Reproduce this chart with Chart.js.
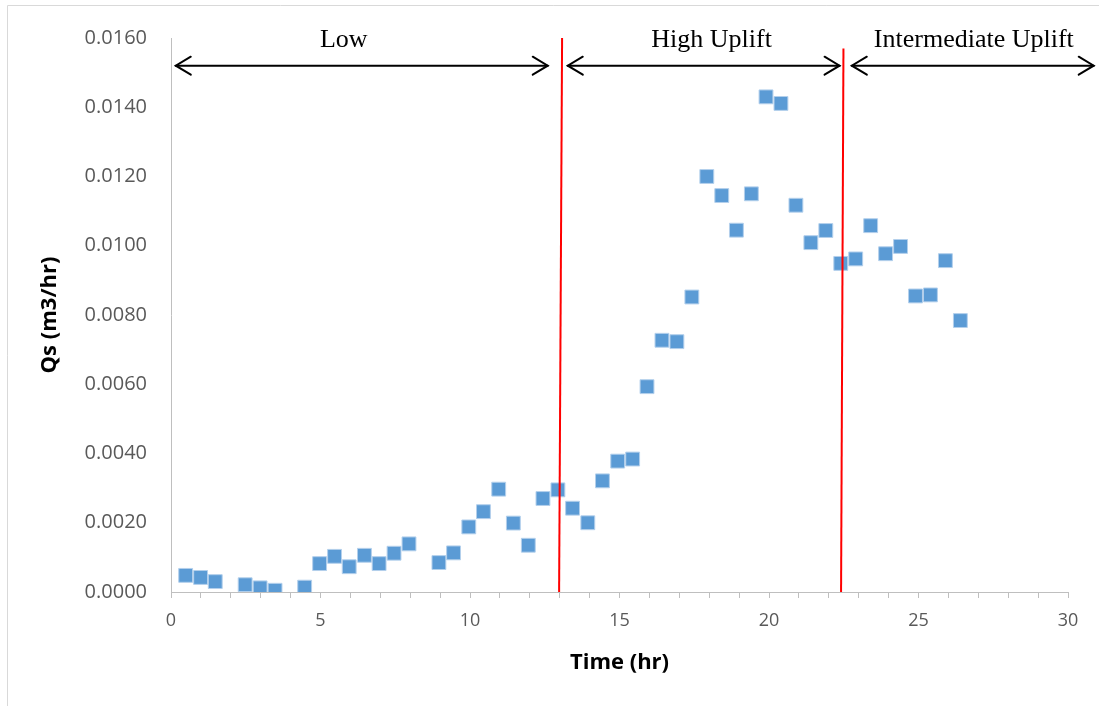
<!DOCTYPE html>
<html>
<head>
<meta charset="utf-8">
<script src="https://cdn.jsdelivr.net/npm/chart.js@4.4.1/dist/chart.umd.min.js"></script>
<style>
  html, body { margin: 0; padding: 0; background: #ffffff; }
  #wrap { width: 1099px; height: 706px; position: relative; }
</style>
</head>
<body>
<div id="wrap"><canvas id="c" width="1099" height="706"></canvas></div>
<script>
// ---- data ----
const timeHr = [0.49, 0.99, 1.48, 2.48, 2.98, 3.48, 4.47, 4.97, 5.47, 5.96,
  6.47, 6.96, 7.46, 7.96, 8.96, 9.45, 9.96, 10.45, 10.96, 11.45,
  11.95, 12.44, 12.94, 13.43, 13.94, 14.43, 14.94, 15.44, 15.92, 16.42,
  16.92, 17.42, 17.92, 18.42, 18.91, 19.41, 19.9, 20.4, 20.9, 21.4,
  21.9, 22.4, 22.9, 23.4, 23.9, 24.4, 24.9, 25.4, 25.9, 26.4];
const qs = [0.00048, 0.00042, 0.00030, 0.00021, 0.00012, 0.00005, 0.00014, 0.00082, 0.00103, 0.00073,
  0.00106, 0.00082, 0.00112, 0.00139, 0.00085, 0.00113, 0.00188, 0.00232, 0.00297, 0.00199,
  0.00135, 0.00270, 0.00295, 0.00242, 0.00200, 0.00321, 0.00378, 0.00384, 0.00593, 0.00727,
  0.00723, 0.00852, 0.01200, 0.01145, 0.01045, 0.01150, 0.01430, 0.01411, 0.01117, 0.01009,
  0.01044, 0.00949, 0.00962, 0.01058, 0.00977, 0.00998, 0.00855, 0.00858, 0.00957, 0.00784];

// phase boundary lines (top x, top y, bottom x, bottom y)
const boundary1X = [13.08, 12.98];
const boundary1Y = [0.0160, 0.0];
const boundary2X = [22.49, 22.41];
const boundary2Y = [0.0157, 0.0];

// phase annotations
const phaseLabels = ['Low', 'High Uplift', 'Intermediate Uplift'];
const phaseLabelX = [5.78, 18.08, 26.85];
const phaseLabelY = 0.01594;
const arrowStartX = [0.16, 13.27, 22.77];
const arrowEndX = [12.6, 22.36, 30.86];
const arrowY = 0.0152;

// axis settings
const xMin = 0, xMax = 30, xStep = 1, xLabelEvery = 5;
const yMin = 0, yMax = 0.016, yStep = 0.002;

const points = timeHr.map((t, i) => ({x: t, y: qs[i]}));
const line1 = boundary1X.map((x, i) => ({x: x, y: boundary1Y[i]}));
const line2 = boundary2X.map((x, i) => ({x: x, y: boundary2Y[i]}));

const annotationPlugin = {
  id: 'phaseAnnotations',
  afterDraw(chart) {
    const ctx = chart.ctx;
    const xs = chart.scales.x, ys = chart.scales.y;
    ctx.save();
    // outer frame
    ctx.strokeStyle = '#D9D9D9';
    ctx.lineWidth = 1;
    ctx.beginPath();
    ctx.moveTo(7.5, 706);
    ctx.lineTo(7.5, 5.5);
    ctx.lineTo(1099, 5.5);
    ctx.stroke();

    // arrows
    const ay = ys.getPixelForValue(arrowY);
    ctx.strokeStyle = '#000000';
    ctx.lineWidth = 2;
    ctx.lineCap = 'round';
    ctx.lineJoin = 'miter';
    for (let i = 0; i < arrowStartX.length; i++) {
      const x0 = xs.getPixelForValue(arrowStartX[i]);
      const x1 = xs.getPixelForValue(arrowEndX[i]);
      ctx.beginPath();
      ctx.moveTo(x0, ay); ctx.lineTo(x1, ay);
      ctx.stroke();
      ctx.beginPath();
      ctx.moveTo(x0 + 15, ay - 9); ctx.lineTo(x0, ay); ctx.lineTo(x0 + 15, ay + 9);
      ctx.stroke();
      ctx.beginPath();
      ctx.moveTo(x1 - 15, ay - 9); ctx.lineTo(x1, ay); ctx.lineTo(x1 - 15, ay + 9);
      ctx.stroke();
    }
    // labels
    ctx.fillStyle = '#000000';
    ctx.font = '26px "Liberation Serif", "Times New Roman", serif';
    ctx.textAlign = 'center';
    ctx.textBaseline = 'middle';
    const ly = ys.getPixelForValue(phaseLabelY);
    for (let i = 0; i < phaseLabels.length; i++) {
      ctx.fillText(phaseLabels[i], xs.getPixelForValue(phaseLabelX[i]), ly);
    }
    ctx.restore();
  }
};

new Chart(document.getElementById('c'), {
  type: 'scatter',
  data: {
    datasets: [
      { data: line1, showLine: true, borderColor: '#FF0000', borderWidth: 2, pointRadius: 0, fill: false },
      { data: line2, showLine: true, borderColor: '#FF0000', borderWidth: 2, pointRadius: 0, fill: false },
      { data: points, pointStyle: 'rect', pointRadius: 9.8, pointHoverRadius: 9.8,
        backgroundColor: '#5B9BD5', borderColor: '#B4D0EC', borderWidth: 1 }
    ]
  },
  options: {
    responsive: false,
    animation: false,
    events: [],
    layout: { padding: { top: 38, right: 31, left: 0, bottom: 0 } },
    plugins: { legend: { display: false }, tooltip: { enabled: false } },
    scales: {
      x: {
        type: 'linear', min: xMin, max: xMax,
        afterFit(scale) { scale.height = 114; },
        ticks: {
          stepSize: xStep, autoSkip: false, maxRotation: 0, padding: 12,
          color: '#595959', font: { family: '"Open Sans", sans-serif', size: 18 },
          callback: (v) => (v % xLabelEvery === 0 ? String(v) : '')
        },
        grid: { display: true, drawOnChartArea: false, drawTicks: true, tickLength: 6, color: '#BFBFBF', lineWidth: 1 },
        border: { display: true, color: '#BFBFBF', width: 1 },
        title: { display: true, text: 'Time (hr)', color: '#000000',
          font: { family: '"Open Sans", sans-serif', size: 22, weight: 'bold' },
          padding: { top: 0, bottom: 30 } }
      },
      y: {
        type: 'linear', min: yMin, max: yMax,
        afterFit(scale) { scale.width = 171; },
        ticks: {
          stepSize: yStep, padding: 24,
          color: '#595959', font: { family: '"Open Sans", sans-serif', size: 20 },
          callback: (v) => Number(v).toFixed(4)
        },
        grid: { display: false, drawTicks: false },
        border: { display: true, color: '#BFBFBF', width: 1 },
        title: { display: true, text: 'Qs (m3/hr)', color: '#000000',
          font: { family: '"Open Sans", sans-serif', size: 22, weight: 'bold' },
          padding: { top: 37, bottom: 0 } }
      }
    }
  },
  plugins: [annotationPlugin]
});
</script>
</body>
</html>
